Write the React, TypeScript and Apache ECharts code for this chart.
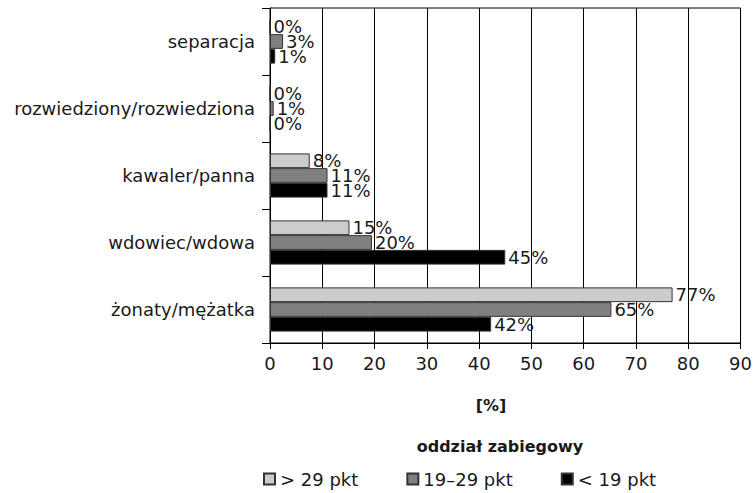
import React, { useEffect, useRef } from "react";
import * as echarts from "echarts";

const categories = ["separacja", "rozwiedziony/rozwiedziona", "kawaler/panna", "wdowiec/wdowa", "żonaty/mężatka"];
const seriesNames = ["> 29 pkt", "19–29 pkt", "< 19 pkt"];
const high = [0, 0, 7.6, 15.2, 77];
const mid = [2.5, 0.7, 11, 19.5, 65.3];
const low = [1, 0, 11, 45, 42.3];
const xTicks = [0, 10, 20, 30, 40, 50, 60, 70, 80, 90];
const colors = ["#cccccc", "#808080", "#000000"];

const FONT = "DejaVu Sans";

export default function App() {
  const ref = useRef<HTMLDivElement>(null);
  useEffect(() => {
    const chart = echarts.init(ref.current!, null, { renderer: "svg" });
    const data = [high, mid, low];
    chart.setOption({
      animation: false,
      textStyle: { fontFamily: FONT },
      grid: { left: 270, right: 13, top: 8, bottom: 150, show: true, borderColor: "#000", borderWidth: 1 },
      xAxis: {
        type: "value",
        min: xTicks[0],
        max: xTicks[xTicks.length - 1],
        interval: 10,
        axisLine: { show: true, lineStyle: { color: "#000" } },
        axisTick: { show: true, length: 6, lineStyle: { color: "#000" } },
        axisLabel: { color: "#1a1a1a", fontSize: 18, margin: 11, fontFamily: FONT },
        splitLine: { show: true, lineStyle: { color: "#000", width: 1 } },
      },
      yAxis: {
        type: "category",
        data: categories,
        inverse: true,
        axisLine: { show: true, lineStyle: { color: "#000" } },
        axisTick: { show: true, length: 8, lineStyle: { color: "#000" } },
        axisLabel: { color: "#1a1a1a", fontSize: 18, margin: 15, fontFamily: FONT },
        splitLine: { show: false },
      },
      legend: {
        data: seriesNames,
        left: 263,
        top: 470,
        padding: 0,
        itemWidth: 11,
        itemHeight: 11,
        itemGap: 48,
        icon: "rect",
        textStyle: { color: "#1a1a1a", fontSize: 18, fontFamily: FONT },
      },
      graphic: [
        {
          type: "text",
          x: 491,
          y: 405,
          style: { text: "[%]", fontSize: 16, fontWeight: "bold", fontFamily: FONT, fill: "#1a1a1a", textAlign: "center", textVerticalAlign: "middle" },
        },
        {
          type: "text",
          x: 500,
          y: 446,
          style: { text: "oddział zabiegowy", fontSize: 16, fontWeight: "bold", fontFamily: FONT, fill: "#1a1a1a", textAlign: "center", textVerticalAlign: "middle" },
        },
      ],
      series: seriesNames.map((name, i) => ({
        name,
        type: "bar",
        data: data[i],
        barGap: "0%",
        barCategoryGap: "34%",
        itemStyle: { color: colors[i], borderColor: "#333", borderWidth: 1 },
        label: {
          show: true,
          position: "right",
          distance: 3,
          color: "#1a1a1a",
          fontSize: 18,
          fontFamily: FONT,
          formatter: (p: any) => Math.round(p.value) + "%",
        },
      })),
    });
    return () => chart.dispose();
  }, []);
  return <div ref={ref} style={{ width: 755, height: 493, position: "absolute", left: 0, top: 0, background: "#fff" }} />;
}
